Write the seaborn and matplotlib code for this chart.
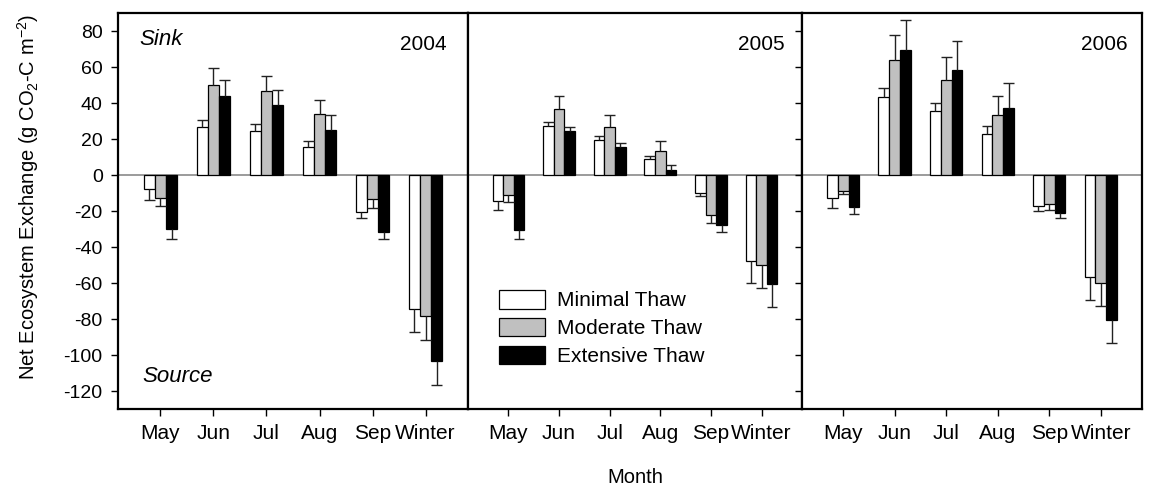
import matplotlib
matplotlib.use("Agg")
import matplotlib.pyplot as plt
import numpy as np
import pandas as pd
import seaborn as sns

# ---- data -------------------------------------------------------------
months = ["May", "Jun", "Jul", "Aug", "Sep", "Winter"]
treatments = ["Minimal Thaw", "Moderate Thaw", "Extensive Thaw"]
years = ["2004", "2005", "2006"]

# Net ecosystem exchange (g CO2-C m-2), mean and standard error
nee_2004_min = [-7.7, 26.7, 24.3, 15.7, -20.6, -74.6]
nee_2004_mod = [-12.5, 50.1, 46.6, 33.7, -13.4, -78.6]
nee_2004_ext = [-30.0, 44.0, 38.7, 25.2, -31.9, -103.5]
se_2004_min = [6.1, 4.1, 3.9, 3.3, 3.3, 12.5]
se_2004_mod = [4.8, 9.2, 8.6, 7.9, 5.0, 13.1]
se_2004_ext = [5.5, 9.0, 8.6, 8.1, 3.6, 12.9]

nee_2005_min = [-14.7, 27.1, 19.7, 8.7, -9.8, -47.9]
nee_2005_mod = [-10.9, 36.8, 26.7, 13.4, -22.1, -49.9]
nee_2005_ext = [-30.4, 24.3, 15.5, 2.9, -28.0, -60.8]
se_2005_min = [4.5, 2.4, 2.0, 2.0, 1.8, 12.3]
se_2005_mod = [4.0, 7.2, 6.4, 5.6, 4.4, 13.1]
se_2005_ext = [5.1, 2.6, 2.4, 2.8, 3.7, 12.7]

nee_2006_min = [-12.9, 43.3, 35.5, 23.0, -17.3, -56.4]
nee_2006_mod = [-8.7, 64.1, 52.9, 33.5, -16.0, -59.9]
nee_2006_ext = [-17.5, 69.6, 58.6, 37.4, -21.2, -80.7]
se_2006_min = [5.7, 5.1, 4.6, 4.3, 2.6, 12.8]
se_2006_mod = [2.0, 13.8, 12.5, 10.3, 3.3, 12.8]
se_2006_ext = [4.2, 16.6, 15.8, 13.8, 2.6, 12.5]

y_ticks = [-120, -100, -80, -60, -40, -20, 0, 20, 40, 60, 80]

means = {
    "2004": [nee_2004_min, nee_2004_mod, nee_2004_ext],
    "2005": [nee_2005_min, nee_2005_mod, nee_2005_ext],
    "2006": [nee_2006_min, nee_2006_mod, nee_2006_ext],
}
errors = {
    "2004": [se_2004_min, se_2004_mod, se_2004_ext],
    "2005": [se_2005_min, se_2005_mod, se_2005_ext],
    "2006": [se_2006_min, se_2006_mod, se_2006_ext],
}

rows = []
for yr in years:
    for t, vals, ses in zip(treatments, means[yr], errors[yr]):
        for m, v, s in zip(months, vals, ses):
            rows.append({"Year": yr, "Month": m, "Thaw": t, "NEE": v, "SE": s})
df = pd.DataFrame(rows)

# ---- style ------------------------------------------------------------
sns.set_style("ticks")
plt.rcParams["font.family"] = ["Liberation Sans", "DejaVu Sans"]
plt.rcParams["mathtext.fontset"] = "custom"
plt.rcParams["mathtext.rm"] = "Liberation Sans"
plt.rcParams["mathtext.it"] = "Liberation Sans:italic"
plt.rcParams["axes.unicode_minus"] = False
for key in ("text.color", "axes.labelcolor", "xtick.color", "ytick.color",
            "axes.edgecolor"):
    plt.rcParams[key] = "black"

palette = ["#ffffff", "#c0c0c0", "#000000"]

fig = plt.figure(figsize=(11.51, 4.87), dpi=100)
gs = fig.add_gridspec(
    1, 3, left=118 / 1151, right=1142 / 1151, top=1 - 13 / 487,
    bottom=1 - 409 / 487, wspace=0, width_ratios=[350, 334, 340],
)
axes = [fig.add_subplot(gs[0, i]) for i in range(3)]

year_label_x = [0.939, 0.949, 0.959]
err_color = "#222222"

for i, (ax, yr) in enumerate(zip(axes, years)):
    sub = df[df["Year"] == yr]
    ax.axhline(0, color="#808080", lw=1.1, zorder=0)
    sns.barplot(
        data=sub, x="Month", y="NEE", hue="Thaw", order=months,
        hue_order=treatments, palette=palette, edgecolor="black",
        linewidth=0.9, width=0.63, errorbar=None, legend=False,
        saturation=1, ax=ax,
    )
    # one-sided error bars pointing away from zero
    for cont, t in zip(list(ax.containers), treatments):
        part = sub[sub["Thaw"] == t].set_index("Month").loc[months]
        vals = part["NEE"].to_numpy()
        ses = part["SE"].to_numpy()
        for b, v, s in zip(cont.patches, vals, ses):
            xc = b.get_x() + b.get_width() / 2
            end = v + s if v >= 0 else v - s
            ax.vlines(xc, v, end, color=err_color, lw=1.0, zorder=3)
            ax.hlines(end, b.get_x(), b.get_x() + b.get_width(),
                      color=err_color, lw=1.0, zorder=3)

    ax.set_xlim(-0.8, 5.8)
    ax.set_ylim(-130, 90)
    ax.set_yticks(y_ticks)
    ax.set_xlabel("")
    ax.set_ylabel("")
    for sp in ax.spines.values():
        sp.set_visible(True)
        sp.set_linewidth(1.6)
        sp.set_color("black")
    ax.tick_params(axis="x", direction="out", length=5, width=1,
                   pad=6, labelsize=15, color="black")
    ax.tick_params(axis="y", direction="out", length=5, width=1,
                   pad=6, labelsize=14, color="black")
    if i == 1:
        ax.tick_params(axis="y", left=False, labelleft=False)
    elif i == 2:
        ax.tick_params(axis="y", left=True, labelleft=False)

    ax.text(year_label_x[i], 0.92, yr, transform=ax.transAxes,
            ha="right", va="center", fontsize=15)

axes[0].text(0.06, 0.932, "Sink", transform=axes[0].transAxes,
             ha="left", va="center", fontsize=16, style="italic")
axes[0].text(0.071, 0.081, "Source", transform=axes[0].transAxes,
             ha="left", va="center", fontsize=16, style="italic")

axes[1].set_xlabel("Month", fontsize=14.5, labelpad=18)
fig.text(28 / 1151, 1 - 197 / 487,
         r"Net Ecosystem Exchange (g CO$_2$-C m$^{-2}$)",
         rotation=90, ha="center", va="center", fontsize=14.5)

handles = [c.patches[0] for c in axes[1].containers
           if isinstance(c, matplotlib.container.BarContainer)]
fig.legend(handles, treatments, loc="upper left",
           bbox_to_anchor=(499 / 1151, 1 - 290 / 487),
           bbox_transform=fig.transFigure, frameon=False, borderpad=0,
           borderaxespad=0, handlelength=2.2, handleheight=1.0,
           labelspacing=0.35, handletextpad=0.6, fontsize=15)

fig.savefig("out.png", dpi=100)
